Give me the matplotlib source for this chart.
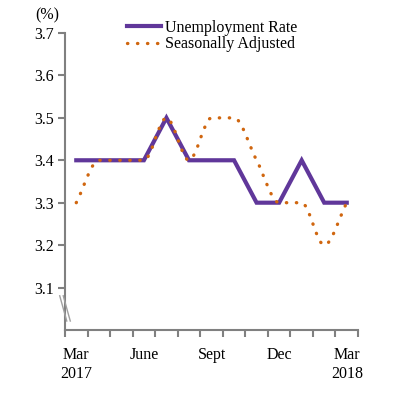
import matplotlib.pyplot as plt
from matplotlib.path import Path
from matplotlib.patches import PathPatch
from matplotlib.lines import Line2D
import numpy as np

plt.rcParams['font.family'] = ['Liberation Serif', 'DejaVu Serif']

months = ['Mar\n2017', '', '', 'June', '', '', 'Sept', '', '', 'Dec', '', '', 'Mar\n2018']
unemp = [3.4, 3.4, 3.4, 3.4, 3.5, 3.4, 3.4, 3.4, 3.3, 3.3, 3.4, 3.3, 3.3]
seas_adj = [3.3, 3.4, 3.4, 3.4, 3.5, 3.4, 3.5, 3.5, 3.4, 3.3, 3.3, 3.2, 3.3]
y_ticks = [3.1, 3.2, 3.3, 3.4, 3.5, 3.6, 3.7]

purple = '#60379a'
orange = '#d0660f'
grey = '#808080'
fs = 11.5
dots = (0, (0.1, 2.9))

fig = plt.figure(figsize=(4.05, 3.98), dpi=100)
ax = fig.add_axes([0.1605, 0.171, 0.7235, 0.746])

x = np.arange(len(months))
ax.plot(x, unemp, color=purple, lw=3, solid_joinstyle='miter', zorder=3)

# smooth line for seasonally adjusted (monotone cubic, no overshoot)
ys = np.array(seas_adj, dtype=float)
d = np.diff(ys)
m = np.zeros(len(ys))
for i in range(1, len(ys) - 1):
    if d[i - 1] * d[i] > 0:
        m[i] = 2 / (1 / d[i - 1] + 1 / d[i])
m[0], m[-1] = d[0], d[-1]
verts = [(x[0], ys[0])]
codes = [Path.MOVETO]
for i in range(len(ys) - 1):
    verts += [(x[i] + 1 / 3, ys[i] + m[i] / 3), (x[i + 1] - 1 / 3, ys[i + 1] - m[i + 1] / 3),
              (x[i + 1], ys[i + 1])]
    codes += [Path.CURVE4] * 3
ax.add_patch(PathPatch(Path(verts, codes), fill=False, ec=orange, lw=2.4,
                       ls=dots, capstyle='round', zorder=4))

ax.set_xlim(-0.5, len(months) - 0.5)
ax.set_ylim(3.0, 3.7)
ax.set_yticks(y_ticks)
ax.set_yticklabels([f'{v:.1f}' for v in y_ticks], fontsize=fs)
ax.set_xticks(np.arange(-0.5, len(months)))
ax.set_xticklabels([])
ax.set_xticks(x, minor=True)
ax.set_xticklabels(months, minor=True, fontsize=fs, linespacing=1.3)
ax.tick_params(axis='x', which='minor', length=0, pad=12)
ax.tick_params(axis='x', which='major', length=5, width=1.5, color=grey)
ax.tick_params(axis='y', length=5, width=1.5, color=grey, pad=3)

for s in ['top', 'right']:
    ax.spines[s].set_visible(False)
for s in ['left', 'bottom']:
    ax.spines[s].set_color(grey)
    ax.spines[s].set_linewidth(1.5)

# axis break marks
for dx in [-0.006, 0.006]:
    ax.plot([-0.012 + dx, 0.012 + dx], [0.115, 0.03], transform=ax.transAxes,
            color='#a0a0a0', lw=1, clip_on=False, zorder=5)

fig.text(0.117, 0.962, '(%)', fontsize=fs, ha='center', va='center')

handles = [Line2D([], [], color=purple, lw=3),
           Line2D([], [], color=orange, lw=2.4, ls=dots, dash_capstyle='round')]
ax.legend(handles, ['Unemployment Rate', 'Seasonally Adjusted'], loc='upper left',
          bbox_to_anchor=(0.19, 1.067), frameon=False, fontsize=fs, handlelength=2.1,
          handletextpad=0.25, labelspacing=0.05, borderaxespad=0)

fig.savefig('out.png', dpi=100)
